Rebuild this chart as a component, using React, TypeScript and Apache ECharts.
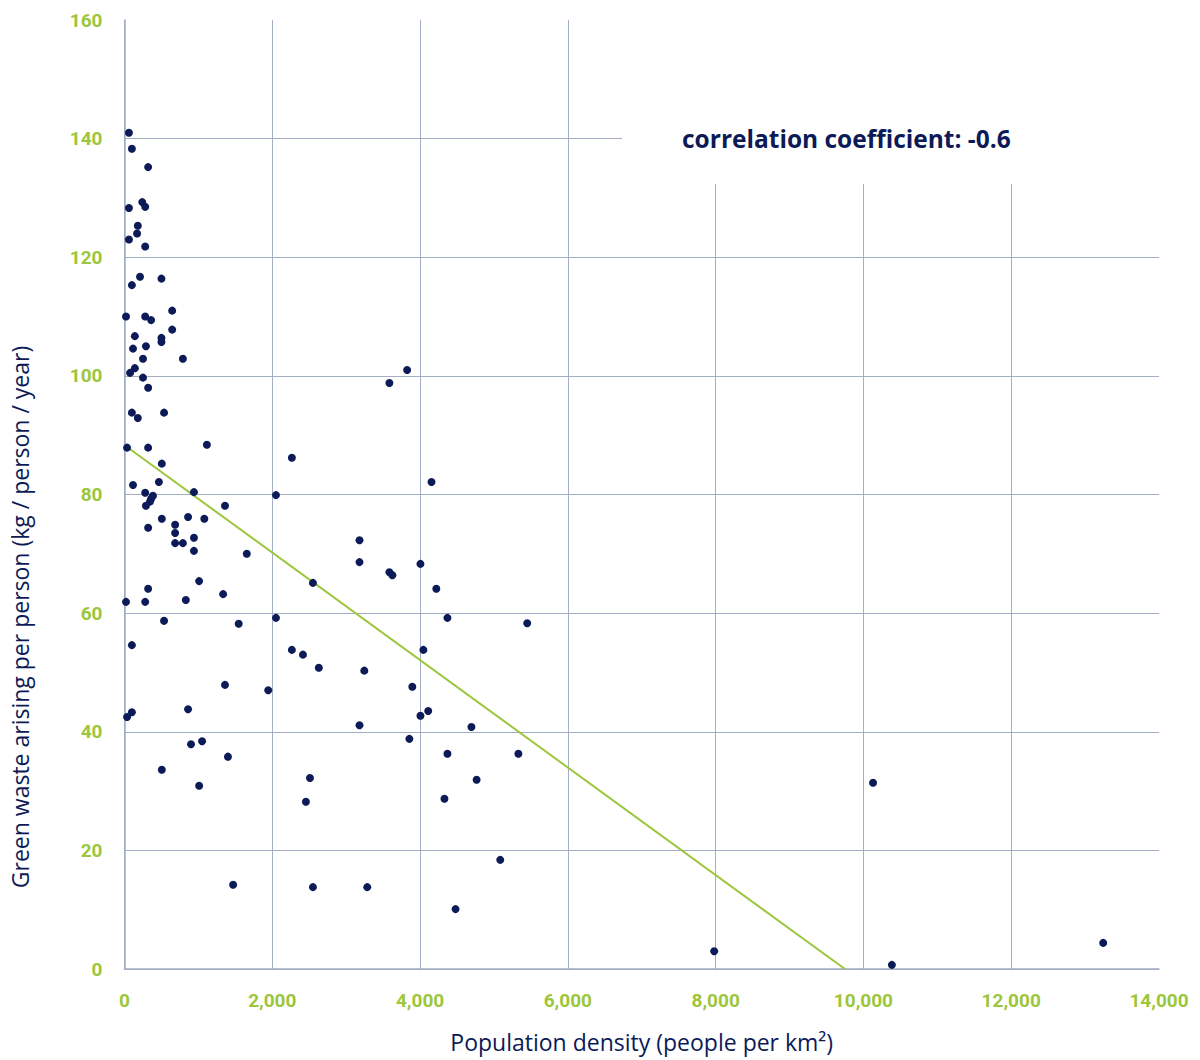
import React, { useEffect, useRef } from "react";
import * as echarts from "echarts";

// [population density (people per km²), green waste (kg / person / year)]
const samples: [number, number][] = [
  [60, 141], [100, 138.3], [320, 135.2], [240, 129.3], [280, 128.5], [60, 128.3],
  [180, 125.3], [170, 124], [60, 123], [280, 121.8], [210, 116.7], [500, 116.4],
  [100, 115.3], [20, 110], [280, 110], [360, 109.4], [645, 111], [645, 107.8],
  [140, 106.7], [500, 106.4], [500, 105.7], [290, 105], [115, 104.6], [250, 102.9],
  [790, 102.9], [140, 101.3], [75, 100.5], [250, 99.7], [320, 98], [100, 93.8],
  [180, 92.9], [535, 93.8], [35, 87.9], [320, 87.9], [1115, 88.4], [505, 85.2],
  [115, 81.6], [465, 82.1], [280, 80.3], [385, 79.8], [940, 80.4], [360, 79.3],
  [345, 78.8], [290, 78.1], [1360, 78.1], [505, 75.9], [1080, 75.9], [860, 76.2],
  [685, 74.9], [320, 74.4], [685, 73.5], [940, 72.7], [685, 71.8], [790, 71.8],
  [940, 70.5], [1655, 70], [1010, 65.4], [320, 64.1], [1335, 63.2], [20, 61.9],
  [280, 61.9], [830, 62.2], [535, 58.7], [1545, 58.2], [100, 54.6], [1360, 47.9],
  [35, 42.5], [100, 43.3], [860, 43.8], [1050, 38.4], [900, 37.9], [1400, 35.8],
  [505, 33.6], [1010, 30.9], [1470, 14.2],
  [2265, 86.2], [2050, 79.9], [2050, 59.2], [2550, 65.1], [1945, 47], [2265, 53.8],
  [2415, 53], [2630, 50.8], [2510, 32.2], [2455, 28.2], [2550, 13.8], [3180, 72.3],
  [3180, 68.6], [3245, 50.3], [3180, 41.1], [3285, 13.8], [3585, 98.8], [3825, 101],
  [3585, 66.9], [3625, 66.4], [4005, 68.3], [4045, 53.8], [4155, 82.1], [4220, 64.1],
  [4370, 59.2], [3895, 47.6], [4110, 43.5], [4005, 42.7], [3855, 38.8], [4370, 36.3],
  [4695, 40.8], [4330, 28.7], [4765, 31.9], [4480, 10.1], [5085, 18.4], [5330, 36.3],
  [5450, 58.3], [7980, 3.0], [10130, 31.4], [10385, 0.7], [13245, 4.4],
];

// trend line end points [density, waste]
const trendLine: [number, number][] = [
  [35, 88],
  [9750, 0],
];

const xTicks = { min: 0, max: 14000, interval: 2000 };
const yTicks = { min: 0, max: 160, interval: 20 };

const NAVY = "#0c1a57";
const GREEN = "#9cc63b";
const GRID = "#a3adc4";
const TICK_FONT = "Roboto, 'DejaVu Sans', sans-serif";
const TITLE_FONT = "'Open Sans', 'DejaVu Sans', sans-serif";

export default function App() {
  const ref = useRef<HTMLDivElement>(null);
  useEffect(() => {
    if (!ref.current) return;
    const chart = echarts.init(ref.current, undefined, { renderer: "svg" });
    const xSplitColors = [GRID, GRID, GRID, GRID, GRID, GRID, GRID, "rgba(0,0,0,0)"];
    const ySplitColors = [GRID, GRID, GRID, GRID, GRID, GRID, GRID, GRID, "rgba(0,0,0,0)"];
    chart.setOption({
      animation: false,
      backgroundColor: "#ffffff",
      grid: { left: 124.5, right: 41, top: 20, bottom: 91, containLabel: false },
      xAxis: {
        type: "value",
        min: xTicks.min,
        max: xTicks.max,
        interval: xTicks.interval,
        name: "Population density (people per km²)",
        nameLocation: "middle",
        nameGap: 61,
        nameTextStyle: { color: NAVY, fontSize: 23, fontFamily: TITLE_FONT },
        axisLine: { show: true, lineStyle: { color: GRID, width: 1.5 } },
        axisTick: { show: false },
        axisLabel: {
          color: GREEN,
          fontSize: 19,
          fontWeight: "bold",
          fontFamily: TICK_FONT,
          margin: 22,
          formatter: (v: number) => v.toLocaleString("en-US"),
        },
        splitLine: { show: true, lineStyle: { color: xSplitColors, width: 1 } },
      },
      yAxis: {
        type: "value",
        min: yTicks.min,
        max: yTicks.max,
        interval: yTicks.interval,
        axisLine: { show: true, lineStyle: { color: GRID, width: 1.5 } },
        axisTick: { show: false },
        axisLabel: {
          color: GREEN,
          fontSize: 19,
          fontWeight: "bold",
          fontFamily: TICK_FONT,
          margin: 22,
        },
        splitLine: { show: true, lineStyle: { color: ySplitColors, width: 1 } },
      },
      graphic: [
        {
          type: "rect",
          z: 5,
          shape: { x: 622, y: 12, width: 560, height: 172 },
          style: { fill: "#ffffff" },
        },
        {
          type: "text",
          z: 6,
          x: 682,
          y: 138,
          style: {
            text: "correlation coefficient: -0.6",
            fill: NAVY,
            font: `bold 24.5px ${TITLE_FONT}`,
            verticalAlign: "middle",
          },
        },
        {
          type: "text",
          z: 6,
          x: 20,
          y: 617,
          rotation: Math.PI / 2,
          style: {
            text: "Green waste arising per person (kg / person / year)",
            fill: NAVY,
            font: `23px ${TITLE_FONT}`,
            align: "center",
            verticalAlign: "middle",
          },
        },
      ],
      series: [
        {
          type: "line",
          data: trendLine,
          symbol: "none",
          lineStyle: { color: GREEN, width: 2 },
          z: 2,
        },
        {
          type: "scatter",
          data: samples,
          symbolSize: 8,
          itemStyle: { color: NAVY, opacity: 1 },
          z: 3,
        },
      ],
    });
    return () => chart.dispose();
  }, []);
  return (
    <div
      ref={ref}
      style={{ position: "absolute", left: 0, top: 0, width: 1200, height: 1060 }}
    />
  );
}
